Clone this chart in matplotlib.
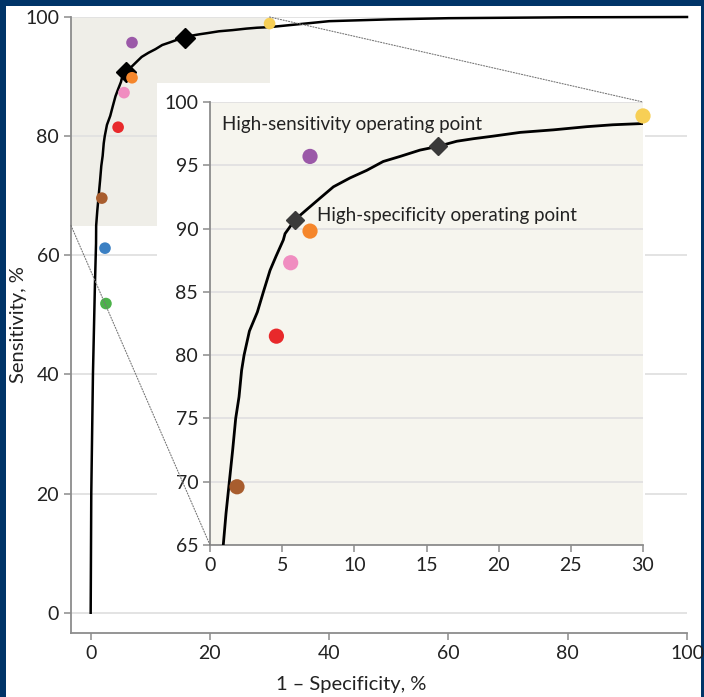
import matplotlib
matplotlib.use('Agg')
import matplotlib.pyplot as plt
from matplotlib.patches import Rectangle, ConnectionPatch

plt.rcParams['font.family'] = ['Lato', 'DejaVu Sans']

# ROC curve (1 - specificity, sensitivity), in %
roc_fpr = [0, 0.1, 0.38, 0.71, 0.9, 0.92, 1.11, 1.34, 1.57, 1.78, 2.01, 2.19, 2.36, 2.73,
           3.28, 3.7, 4.16, 4.57, 5.08, 5.2, 5.89, 6.7, 7.62, 8.55, 9.7, 10.86, 12.0,
           13.17, 14.55, 15.82, 17.1, 18.25, 19.6, 21.5, 23.8, 26.1, 27.9, 30.0,
           40, 50, 60, 80, 100]
roc_tpr = [0, 20, 40, 55, 62, 65, 67.5, 70, 72.5, 75, 76.7, 78.8, 80, 81.9,
           83.4, 85, 86.7, 87.8, 89.1, 89.6, 90.7, 91.5, 92.4, 93.3, 94.0, 94.6, 95.3,
           95.7, 96.2, 96.5, 96.9, 97.1, 97.3, 97.6, 97.8, 98.05, 98.2, 98.3,
           99.3, 99.6, 99.8, 99.95, 100]

# operating points of the model
op_fpr = [5.9, 15.8]
op_tpr = [90.7, 96.5]

# individual readers / comparison points
pt_fpr = [30.0, 6.93, 6.93, 5.59, 4.6, 1.87, 2.4, 2.56]
pt_tpr = [98.9, 95.7, 89.8, 87.3, 81.5, 69.6, 61.2, 51.9]
pt_colors = ['#f7cf55', '#9b59a8', '#f5862b', '#f08dc0', '#e8292b', '#a85d2e', '#3b80c3', '#4cb24a']

navy = '#003468'
spine_c = '#8c8c8c'
grid_c = '#e1e1e1'
text_c = '#222222'

fig = plt.figure(figsize=(7.04, 6.97), dpi=100, facecolor=navy)
# white page inside the dark frame
fig.add_artist(Rectangle((6 / 704, 0), 695 / 704, 691 / 697, transform=fig.transFigure,
                         facecolor='white', edgecolor='none', zorder=-10))

# main axes
ax = fig.add_axes([71 / 704, 64 / 697, 616 / 704, 616 / 697])
ax.set_facecolor('none')
ax.set_xlim(-3.3, 100)
ax.set_ylim(-3.4, 100)
ax.set_xticks(range(0, 101, 20))
ax.set_yticks(range(0, 101, 20))
for s in ['top', 'right']:
    ax.spines[s].set_visible(False)
for s in ['left', 'bottom']:
    ax.spines[s].set_color(spine_c)
    ax.spines[s].set_linewidth(1.3)
ax.tick_params(colors=spine_c, labelcolor=text_c, labelsize=14, length=5, width=1.1)
ax.grid(axis='y', color=grid_c, lw=1.3, zorder=0)
ax.set_axisbelow(True)
ax.add_patch(Rectangle((-3.3, 65), 33.3, 35, facecolor='#efeee8', edgecolor='none', zorder=0.5))
ax.plot(roc_fpr, roc_tpr, color='black', lw=1.8, zorder=3, clip_on=False)
ax.plot(op_fpr, op_tpr, 'D', color='black', ms=10, zorder=4)
ax.scatter(pt_fpr, pt_tpr, s=70, c=pt_colors, edgecolors='none', zorder=5)
ax.set_xlabel('1 – Specificity, %', fontsize=14.5, color=text_c)
ax.set_ylabel('Sensitivity, %', fontsize=14.5, color=text_c)
ax.xaxis.set_label_coords(0.455, -0.07)
ax.yaxis.set_label_coords(-0.072, 0.5)

# white box behind the inset
fig.add_artist(Rectangle((157 / 704, (697 - 590) / 697), 488 / 704, 507 / 697,
                         transform=fig.transFigure, facecolor='white', edgecolor='none', zorder=1))

# inset axes (zoomed region)
ins = fig.add_axes([210 / 704, 152 / 697, 433 / 704, 443 / 697], zorder=2)
ins.set_facecolor('#f6f5ee')
ins.set_xlim(0, 30)
ins.set_ylim(65, 100)
ins.set_xticks(range(0, 31, 5))
ins.set_yticks(range(65, 101, 5))
for s in ['top', 'right']:
    ins.spines[s].set_visible(False)
for s in ['left', 'bottom']:
    ins.spines[s].set_color(spine_c)
    ins.spines[s].set_linewidth(1.3)
ins.tick_params(colors=spine_c, labelcolor=text_c, labelsize=14, length=5, width=1.1)
ins.grid(axis='y', color=grid_c, lw=1.3)
ins.set_axisbelow(True)
ins.plot(roc_fpr, roc_tpr, color='black', lw=2.0, zorder=3)
ins.plot(op_fpr, op_tpr, 'D', color='#3a3a3a', ms=9, zorder=4)
in_fpr = [f for f, t in zip(pt_fpr, pt_tpr) if t >= 65]
in_tpr = [t for t in pt_tpr if t >= 65]
in_col = [c for c, t in zip(pt_colors, pt_tpr) if t >= 65]
ins.scatter(in_fpr, in_tpr, s=120, c=in_col, edgecolors='none', zorder=5, clip_on=False)
ins.text(0.8, 98.2, 'High-sensitivity operating point', fontsize=13.5, color=text_c, va='center')
ins.text(7.4, 91.0, 'High-specificity operating point', fontsize=13.5, color=text_c, va='center')

# dotted zoom connectors
for xy_main, xy_ins in [((-3.3, 65), (0, 65)), ((30, 100), (30, 100))]:
    con = ConnectionPatch(xyA=xy_main, coordsA=ax.transData, xyB=xy_ins, coordsB=ins.transData,
                          linestyle=(0, (1, 1.5)), color='#777777', lw=0.8, zorder=3)
    fig.add_artist(con)

plt.savefig('out.png', dpi=100, facecolor=navy)
